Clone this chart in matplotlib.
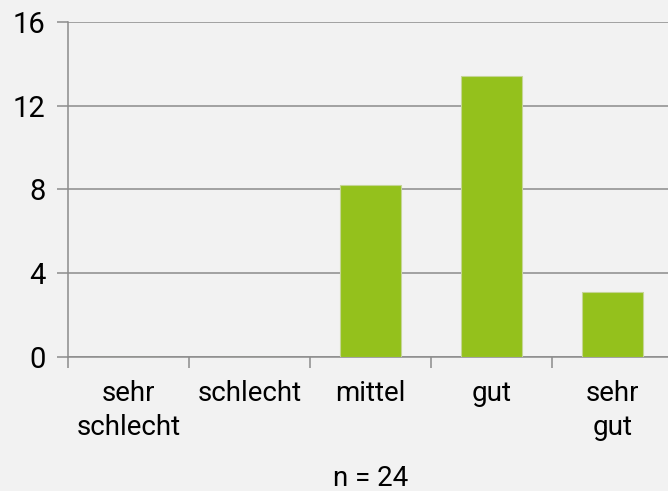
import matplotlib
matplotlib.use('Agg')
import matplotlib.pyplot as plt
import numpy as np

categories = ['sehr\nschlecht', 'schlecht', 'mittel', 'gut', 'sehr\ngut']
values = [0, 0, 8.2, 13.4, 3.1]
y_ticks = [0, 4, 8, 12, 16]
n_label = 'n = 24'

plt.rcParams['font.family'] = ['Roboto', 'DejaVu Sans']

BG = '#f2f2f2'
GRID = '#8c8c8c'
BAR = '#94c11c'

fig = plt.figure(figsize=(6.68, 4.91), dpi=100, facecolor=BG)
# axes runs a bit past the right edge of the picture, like the original crop
ax = fig.add_axes([68 / 668, 1 - 356.5 / 491, 605 / 668, 334.5 / 491], facecolor=BG)

x = np.arange(len(categories))
ax.bar(x, values, width=0.5, color=BAR, edgecolor='#c5d596', linewidth=0.8, zorder=3)

ax.set_xlim(-0.5, len(categories) - 0.5)
ax.set_ylim(0, 16)
ax.set_yticks(y_ticks)
ax.set_yticklabels([str(t) for t in y_ticks], fontsize=21)
ax.yaxis.grid(True, color=GRID, linewidth=1.1, zorder=0)

# category labels in the middle, tick marks on the boundaries
ax.set_xticks(x)
ax.set_xticklabels(categories, fontsize=20, linespacing=1.35)
ax.set_xticks(np.arange(len(categories)) - 0.5, minor=True)
ax.tick_params(axis='x', which='major', length=0, pad=17)
ax.tick_params(axis='x', which='minor', length=8, width=1.1, color=GRID)
ax.tick_params(axis='y', length=8, width=1.1, color=GRID, pad=8)

for side in ['top', 'right']:
    ax.spines[side].set_visible(False)
for side in ['left', 'bottom']:
    ax.spines[side].set_color(GRID)
    ax.spines[side].set_linewidth(1.1)

ax.set_xlabel(n_label, fontsize=20, labelpad=17)

fig.savefig('out.png', dpi=100, facecolor=BG)
